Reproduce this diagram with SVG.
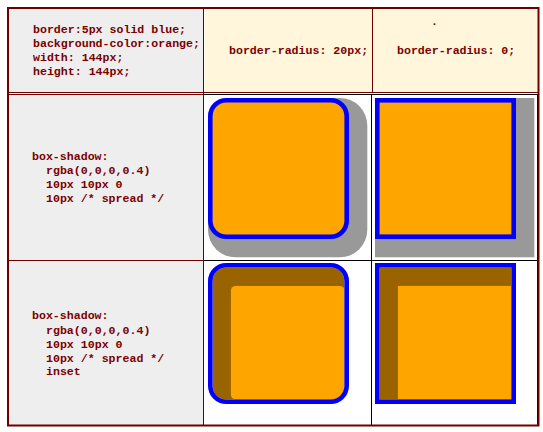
<svg xmlns="http://www.w3.org/2000/svg" width="543" height="432" viewBox="0 0 543 432">
<style>
.t{font-family:"Liberation Mono","Courier New",monospace;font-size:11.6px;font-weight:bold;fill:#7a0000}
.th{fill:#eeeeee}
.hd{fill:#fff6dc}
.dr{stroke:#700000;stroke-width:1;fill:none}
.bk{stroke:#000;stroke-width:1;fill:none}
.box{fill:#ffa500;stroke:#0000ff;stroke-width:4.6}
.sh{fill:#999999}
.ins{fill:#996300}
</style>
<defs>
<clipPath id="cpR"><rect x="212.6" y="267.6" width="131.8" height="131.8" rx="13.7"/></clipPath>
</defs>
<rect x="0" y="0" width="543" height="432" fill="#fff"/>

<g id="header-col1">
<rect class="th" x="9" y="9" width="195" height="83.5"/>
<text class="t" x="33" y="33.3">border:5px solid blue;</text>
<text class="t" x="33" y="47">background-color:orange;</text>
<text class="t" x="33" y="60.8">width: 144px;</text>
<text class="t" x="33" y="74.6">height: 144px;</text>
</g>
<g id="header-col2">
<rect class="hd" x="204.5" y="9" width="167.5" height="83.5"/>
<text class="t" x="229" y="54.3">border-radius: 20px;</text>
</g>
<g id="header-col3">
<rect class="hd" x="372.5" y="9" width="165.5" height="83.5"/>
<text class="t" x="431" y="25">.</text>
<text class="t" x="397" y="54.3">border-radius: 0;</text>
</g>

<g id="row2-label">
<rect class="th" x="9" y="94" width="194.5" height="166"/>
<text class="t" x="32" y="160">box-shadow:</text>
<text class="t" x="46" y="174.2">rgba(0,0,0,0.4)</text>
<text class="t" x="46" y="188.3">10px 10px 0</text>
<text class="t" x="46" y="202.3">10px /* spread */</text>
</g>
<g id="row3-label">
<rect class="th" x="9" y="261" width="194.5" height="164"/>
<text class="t" x="32" y="319.3">box-shadow:</text>
<text class="t" x="46" y="333.6">rgba(0,0,0,0.4)</text>
<text class="t" x="46" y="347.6">10px 10px 0</text>
<text class="t" x="46" y="361.6">10px /* spread */</text>
<text class="t" x="46" y="375.3">inset</text>
</g>

<g id="shadow-rounded">
<rect class="sh" x="208" y="98" width="159.3" height="159.3" rx="27.5"/>
<rect class="box" x="210.3" y="100.3" width="136.4" height="136.4" rx="16"/>
</g>
<g id="shadow-square">
<rect class="sh" x="375" y="98" width="159.3" height="159.3"/>
<rect class="box" x="377.3" y="100.3" width="136.4" height="136.4"/>
</g>
<g id="inset-rounded">
<rect class="ins" x="212.6" y="267.6" width="131.8" height="131.8" rx="13.7"/>
<rect fill="#ffa500" x="230.9" y="285.9" width="113.5" height="113.5" rx="4.6" clip-path="url(#cpR)"/>
<rect class="box" style="fill:none" x="210.3" y="265.3" width="136.4" height="136.4" rx="16"/>
</g>
<g id="inset-square">
<rect class="ins" x="379.6" y="267.6" width="131.8" height="131.8"/>
<rect fill="#ffa500" x="397.9" y="285.9" width="113.5" height="113.5"/>
<rect class="box" style="fill:none" x="377.3" y="265.3" width="136.4" height="136.4"/>
</g>

<g id="connectors">
<path class="bk" d="M204 94.5H538M204 260.5H538M371.5 94V426M537.5 94V426"/>
<path class="dr" d="M8 92.5H538M8 94.5H204M8 260.5H204M203.5 8V426M372.5 8V93"/>
<rect x="8" y="8" width="530.5" height="417.5" fill="none" stroke="#700000" stroke-width="2"/>
</g>
</svg>
